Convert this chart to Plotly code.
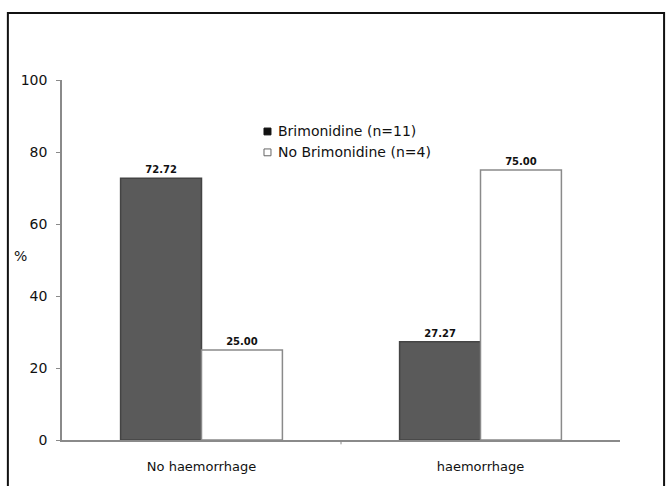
import plotly.graph_objects as go

categories = ["No haemorrhage", "haemorrhage"]
brimonidine = [72.72, 27.27]
no_brimonidine = [25.00, 75.00]
series_names = ["Brimonidine (n=11)", "No Brimonidine (n=4)"]
series_colors = ["#5a5a5a", "#ffffff"]
series_edges = ["#444444", "#8a8a8a"]
y_ticks = [0, 20, 40, 60, 80, 100]

FONT = "DejaVu Sans, Verdana, sans-serif"
label_font = dict(family=FONT, size=10, color="#111", weight="bold")

fig = go.Figure()
for name, vals, col, edge in zip(series_names, [brimonidine, no_brimonidine],
                                 series_colors, series_edges):
    fig.add_trace(go.Bar(
        x=categories, y=vals, name=name,
        marker=dict(color=col, line=dict(color=edge, width=1.5)),
        text=[f"{v:.2f}" for v in vals], textposition="outside",
        textfont=label_font, cliponaxis=False,
    ))

fig.update_layout(
    width=667, height=486,
    margin=dict(l=62, r=47, t=80, b=46),
    paper_bgcolor="white", plot_bgcolor="white",
    barmode="group", bargap=0.42, bargroupgap=0,
    font=dict(family=FONT, size=13, color="#111"),
    showlegend=False,
    uniformtext=dict(mode=False),
)
fig.update_xaxes(
    showline=True, linecolor="#8a8a8a", linewidth=1.5,
    ticks="", showgrid=False, tickfont=dict(size=13),
    ticklabelstandoff=14,
)
fig.update_yaxes(
    range=[0, 100], tickvals=y_ticks, showline=True, linecolor="#8a8a8a",
    linewidth=1.5, ticks="outside", ticklen=4, tickcolor="#8a8a8a",
    showgrid=False, zeroline=False, tickfont=dict(size=14),
    ticklabelstandoff=6,
)
fig.add_annotation(text="%", xref="paper", yref="paper", x=-0.075, y=0.51,
                   xanchor="center", yanchor="middle",
                   showarrow=False, font=dict(size=14))

# legend: small squares with series names
legend_rows_y = [0.857, 0.799]
for name, col, edge, yc in zip(series_names, series_colors,
                               ["#111111", "#666666"], legend_rows_y):
    fig.add_shape(type="rect", xref="paper", yref="paper",
                  x0=0.362, x1=0.3745, y0=yc - 0.0095, y1=yc + 0.0095,
                  fillcolor="#111111" if col != "#ffffff" else "#ffffff",
                  line=dict(color=edge, width=1))
    fig.add_annotation(text=name, xref="paper", yref="paper", x=0.383, y=yc,
                       xanchor="left", yanchor="middle", showarrow=False,
                       font=dict(size=14))

# category boundary tick below the x-axis
fig.add_shape(type="line", xref="paper", yref="paper",
              x0=0.5, x1=0.5, y0=0, y1=-0.012,
              line=dict(color="#8a8a8a", width=1))

# outer frame around the figure
fig.add_shape(type="rect", xref="paper", yref="paper",
              x0=-0.097, x1=1.079, y0=-0.15, y1=1.186,
              line=dict(color="#111", width=2), layer="above")

fig.write_html("out.html")
